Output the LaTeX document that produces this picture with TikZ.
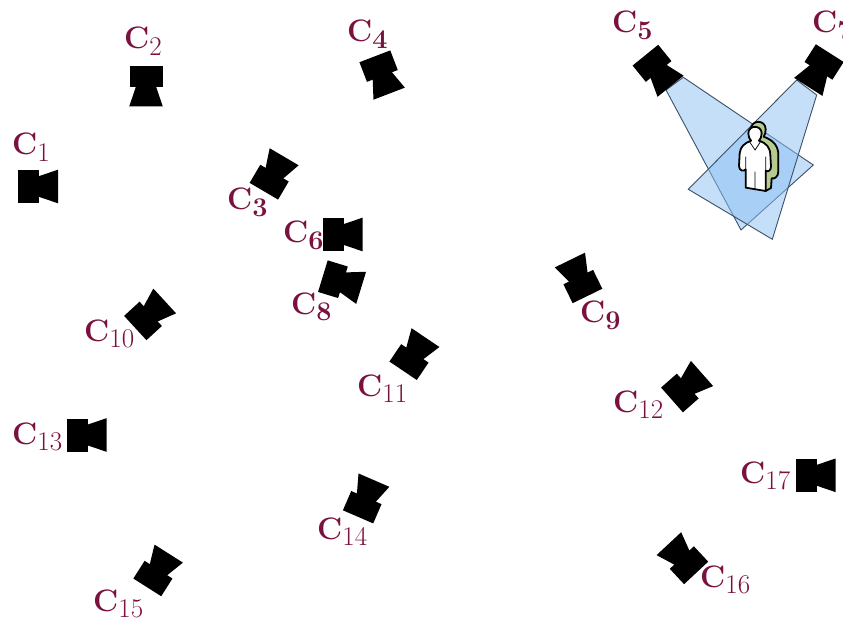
\documentclass[tikz,border=0pt]{standalone}
\definecolor{lab}{HTML}{7A1240}
\definecolor{fov}{HTML}{8CC0F5}
\definecolor{fovline}{HTML}{3C5068}
\definecolor{shadow}{HTML}{B5CC8E}
\tikzset{
  x=1pt,y=-1pt,
  camlabel/.style={text=lab,inner sep=0pt,anchor=base west},
  frustum/.style={draw=fovline,line width=0.9pt,fill=fov,fill opacity=0.5},
  cam/.pic={\fill[black] (-20,-16.5) rectangle (1,16.5);
    \fill[black] (0,-10) -- (20,-16.8) -- (20,16.8) -- (0,10) -- cycle;},
  figline/.style={draw=black,line width=1.8pt,line join=round}
}
\newcommand{\camtext}[2]{{\fontsize{31}{32}\bfseries\selectfont C}\raisebox{-6.5pt}{\fontsize{27}{29}\fontseries{#2}\selectfont #1}}
\begin{document}
\begin{tikzpicture}
\useasboundingbox (0,0) rectangle (843,620);
\fill[white] (0,0) rectangle (843,620);
\draw[frustum] (666,90) -- (683.3,77.3) -- (813.3,165) -- (741,230) -- cycle;
\draw[frustum] (796.7,80) -- (816.7,95) -- (772.3,239.3) -- (688.3,189.3) -- cycle;
\foreach \x/\y/\a in {38/186.5/0,146/86.5/-90,274/174/59.5,382/75/-69,658/70.7/-51,819/70/-122.5,342.5/234.5/0,342/282/-17,578.7/278/116,150/314.5/42.6,414.3/354.2/56,687/386.7/41.4,86.5/435/0,366/498.5/66.6,158/570.5/57.6,682.5/558.3/133,815.5/475.3/0}
  \pic[rotate=\a] at (\x,\y) {cam};
% person, drawn in zoomed units
\begin{scope}[shift={(725,110)},x=0.3333pt,y=-0.3333pt]
\filldraw[figline,fill=shadow] (78,58) .. controls (78,28) and (122,28) .. (122,58) .. controls (122,68) and (120,74) .. (116,80) .. controls (148,92) and (160,110) .. (160,135) -- (160,185) .. controls (160,200) and (148,208) .. (140,205) -- (138,234) -- (122,243) -- (90,200) -- cycle;
\filldraw[figline,fill=white] (70,70) .. controls (70,44) and (110,44) .. (110,70) .. controls (110,80) and (106,88) .. (102,92) .. controls (125,100) and (135,112) .. (136,135) -- (138,170) .. controls (138,182) and (128,187) .. (122,182) -- (122,243) -- (62,233) -- (62,178) .. controls (56,186) and (42,182) .. (42,168) -- (44,130) .. controls (46,110) and (58,100) .. (78,92) .. controls (73,86) and (70,80) .. (70,70) -- cycle;
\draw[black,line width=0.7pt] (74,96) -- (90,120) -- (106,96) (90,185) -- (90,236) (62,140) -- (62,178) (122,140) -- (122,182);
\end{scope}
\foreach \n/\x/\y/\w in {1/12/155/m,2/124/49/m,3/227/210/bx,4/347/42/bx,5/612/33/bx,6/283/243/bx,7/812/33/bx,8/291/314/bx,9/580/323/bx,10/84/341/m,11/357/396/m,12/613/412/m,13/12/444/m,14/317/539/m,15/93/611/m,16/700/587/m,17/740/483/m}
  \node[camlabel] (c\n) at (\x,\y) {\camtext{\n}{\w}};
\end{tikzpicture}
\end{document}
